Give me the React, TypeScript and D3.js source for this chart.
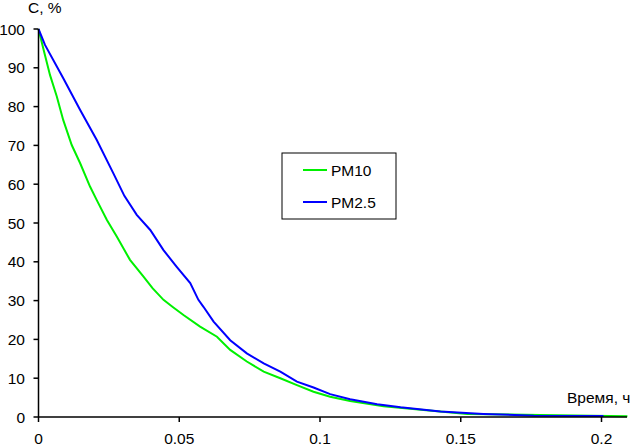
import React from "react";
import * as d3 from "d3";

const pm10T = [0, 0.0017, 0.0041, 0.0065, 0.0088, 0.0118, 0.0148, 0.0183, 0.0207, 0.0243, 0.0278, 0.0325, 0.0373, 0.0405, 0.0444, 0.0478, 0.0515, 0.0574, 0.0634, 0.0681, 0.074, 0.08, 0.0859, 0.0918, 0.0977, 0.1036, 0.1107, 0.1226, 0.1368, 0.1523, 0.1783, 0.2092];
const pm10V = [100, 95.0, 88.1, 82.6, 76.5, 70.1, 65.4, 59.4, 55.9, 50.8, 46.5, 40.5, 36.2, 33.2, 30.2, 28.3, 26.3, 23.3, 20.7, 17.3, 14.3, 11.7, 10.0, 8.2, 6.5, 5.2, 4.1, 2.8, 1.8, 0.8, 0.5, 0.2];

const pm25T = [0, 0.0023, 0.0088, 0.0148, 0.0207, 0.0266, 0.0305, 0.0349, 0.0397, 0.0444, 0.0491, 0.0539, 0.0568, 0.0586, 0.0622, 0.0681, 0.074, 0.08, 0.0859, 0.0918, 0.0977, 0.1036, 0.1107, 0.1203, 0.1286, 0.1428, 0.158, 0.176, 0.2007];
const pm25V = [100, 95.9, 87.3, 79.1, 71.4, 62.8, 57.0, 52.1, 48.2, 43.0, 38.7, 34.5, 30.2, 28.4, 24.6, 19.8, 16.4, 13.8, 11.7, 9.1, 7.6, 5.9, 4.6, 3.3, 2.5, 1.4, 0.8, 0.35, 0.25];

const xTicks = [0, 0.05, 0.1, 0.15, 0.2];
const xTickLabels = ["0", "0.05", "0.1", "0.15", "0.2"];
const yTicks = [0, 10, 20, 30, 40, 50, 60, 70, 80, 90, 100];

const seriesNames = ["PM10", "PM2.5"];
const seriesColors = ["#00f000", "#0000ff"];

export default function App() {
  const W = 631, H = 446;
  const x = d3.scaleLinear().domain([0, 0.2]).range([38.5, 601.5]);
  const y = d3.scaleLinear().domain([0, 100]).range([417, 29]);
  const line = d3.line<[number, number]>().x(d => x(d[0])).y(d => y(d[1]));
  const s1: [number, number][] = pm10T.map((t, i) => [t, pm10V[i]]);
  const s2: [number, number][] = pm25T.map((t, i) => [t, pm25V[i]]);
  const font = "'Liberation Sans', Arial, sans-serif";
  const fs = 15.5;
  return (
    <svg width={W} height={H} style={{ position: "absolute", left: 0, top: 0, background: "#fff" }} fontFamily={font}>
      <rect x={0} y={0} width={W} height={H} fill="#fff" />
      <path d={line(s1) || ""} fill="none" stroke={seriesColors[0]} strokeWidth={2} />
      <path d={line(s2) || ""} fill="none" stroke={seriesColors[1]} strokeWidth={2} />
      <line x1={x(0)} x2={x(0)} y1={y(100)} y2={y(0)} stroke="#000" strokeWidth={1.5} />
      <line x1={x(0)} x2={627} y1={y(0)} y2={y(0)} stroke="#000" strokeWidth={1.5} />
      {yTicks.map(v => (
        <g key={"y" + v}>
          <line x1={x(0) - 5} x2={x(0)} y1={y(v)} y2={y(v)} stroke="#000" strokeWidth={1.5} />
          <text x={25} y={y(v)} dy="0.36em" textAnchor="end" fontSize={fs} fill="#000">{v}</text>
        </g>
      ))}
      {xTicks.map((t, i) => (
        <g key={"x" + t}>
          <line x1={x(t)} x2={x(t)} y1={y(0)} y2={y(0) + 5} stroke="#000" strokeWidth={1.5} />
          <text x={x(t)} y={443.5} textAnchor="middle" fontSize={fs} fill="#000">{xTickLabels[i]}</text>
        </g>
      ))}
      <text x={28} y={13} fontSize={fs} fill="#000">C, %</text>
      <text x={567} y={403} fontSize={fs} fill="#000">Время, ч</text>
      <rect x={282} y={153} width={114} height={66} fill="#fff" stroke="#000" strokeWidth={1} />
      {seriesNames.map((n, i) => (
        <g key={n}>
          <line x1={303} x2={327} y1={170 + i * 32} y2={170 + i * 32} stroke={seriesColors[i]} strokeWidth={2} />
          <text x={331} y={170 + i * 32} dy="0.36em" fontSize={fs} fill="#000">{n}</text>
        </g>
      ))}
    </svg>
  );
}
